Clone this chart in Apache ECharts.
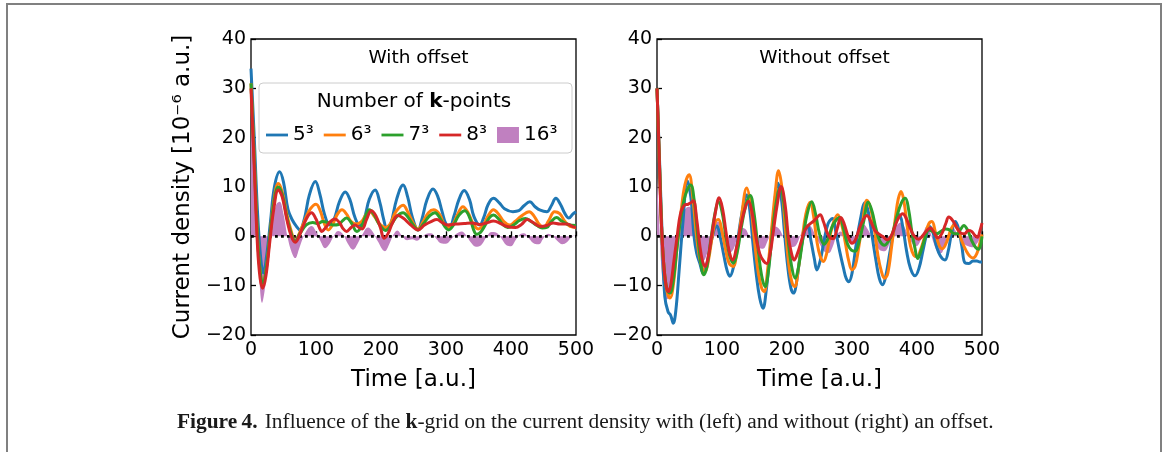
<!DOCTYPE html>
<html>
<head>
<meta charset="utf-8">
<title>Current density vs. k-grid</title>
<script src="https://cdn.jsdelivr.net/npm/echarts@6/dist/echarts.min.js"></script>
<style>
  html, body { margin: 0; padding: 0; background: #fff; }
  #chart { position: absolute; left: 0; top: 0; width: 1165px; height: 452px; }
  #frame { position: absolute; left: 6px; top: 3px; width: 1156px; height: 470px;
           box-sizing: border-box; border: 2px solid #808080; border-bottom: none; pointer-events: none; }
</style>
</head>
<body>
<div id="chart"></div>
<div id="frame"></div>
<script>
// ---- data: [time (a.u.), current density (1e-6 a.u.)] ----
const seriesNames = ['5\u00b3', '6\u00b3', '7\u00b3', '8\u00b3', '16\u00b3'];
const seriesColors = ['#1f77b4', '#ff7f0e', '#2ca02c', '#d62728', '#c080c0'];
const xTicks = { min: 0, max: 500, step: 100 };
const yTicks = { min: -20, max: 40, step: 10 };
const panelTitles = ['With offset', 'Without offset'];

// with offset
const offK5 = [[0,34],[5,20],[10,5],[15,-4.5],[19,-7.4],[24,-4],[30,3],[36,10],[44,13.1],[50,11],[57,5.4],[64,3.2],[70,2],[75,1.3],[82,3.5],[90,8.5],[99,11.1],[106,8.5],[113,4.5],[121,2.3],[128,3.5],[136,7],[145,9.0],[152,7.5],[160,3.8],[167,2.3],[174,3.5],[182,7.5],[191,9.4],[198,7],[204,3.5],[209,1.7],[215,2.5],[224,7.5],[234,10.4],[241,8],[248,4],[257,1.3],[263,3.5],[271,7.5],[280,9.6],[287,8.2],[294,5],[300,2.5],[306,2.0],[312,4],[320,7.5],[328,9.3],[336,7.5],[343,4],[352,2.3],[358,3.8],[365,6.5],[373,7.7],[382,6.8],[390,5.6],[403,5.0],[412,5.2],[420,6.2],[429,7.0],[437,6.0],[445,5.3],[455,5.0],[462,6.2],[469,7.7],[476,6.5],[483,4.6],[489,3.7],[495,4.5],[500,5.0]];
const offK6 = [[0,31],[5,16],[10,0],[14,-7],[18,-9.8],[23,-7],[29,0],[35,7],[42,10.7],[48,9],[55,4.5],[62,1],[68,-1.0],[74,0.5],[82,3],[91,5.5],[100,6.5],[107,5],[113,2.5],[119,1.3],[126,2.5],[133,4.5],[140,5.4],[147,4.5],[154,3],[162,2.5],[170,3],[177,4.4],[183,5.0],[190,4],[198,2.5],[207,1.8],[214,2.5],[223,5],[234,6.3],[241,5],[249,2.8],[257,1.5],[265,3],[273,4.8],[281,5.4],[290,4.5],[297,2.5],[304,1.8],[311,2.5],[318,4.5],[326,6.0],[334,4.8],[342,2.5],[350,1.5],[357,2.2],[365,4.2],[373,5.4],[381,4.5],[389,3],[398,2.3],[406,3],[415,4],[428,5.0],[436,4],[443,2.5],[450,1.8],[458,3.2],[467,5.0],[475,4.6],[483,3],[491,2],[500,1.8]];
const offK7 = [[0,31],[5,15.5],[10,0],[14,-7],[18,-9.5],[23,-7],[29,0],[35,6.5],[42,10],[48,8.5],[55,4],[62,0.5],[68,-1.0],[75,0.5],[85,2.3],[95,2.8],[103,2.6],[110,3.0],[118,2.8],[126,2.3],[135,2.4],[141,3.2],[147,3.7],[154,2.8],[163,1.0],[170,2],[176,4],[182,5.4],[189,4.5],[197,2.5],[207,1.2],[214,2],[224,4],[234,4.8],[242,3.8],[250,2.2],[257,1.3],[265,2.5],[275,4.2],[283,4.8],[291,3.6],[298,2],[304,1.3],[311,2.2],[320,4.3],[329,5.2],[337,3.6],[342,1.5],[347,0.4],[353,0.8],[360,2.2],[367,3.8],[373,4.3],[381,3.5],[388,2.3],[395,1.8],[404,2.3],[413,3.2],[422,3.6],[431,3],[440,2.2],[448,1.7],[455,1.8],[462,3],[470,3.8],[478,3.1],[488,2.4],[500,2.2]];
const offK8 = [[0,30],[5,14],[10,-2],[14,-8.5],[18,-10.5],[23,-8],[29,-1],[35,5.5],[42,9.4],[48,8],[55,3.5],[62,0],[68,-1.2],[74,0],[80,2],[87,4],[93,4.8],[100,3.5],[105,1.8],[109,1.0],[115,1.8],[122,3],[129,3.5],[136,2.8],[142,1.5],[147,1.0],[154,1.8],[160,2.3],[166,1.8],[171,1.5],[178,3.5],[185,5.2],[192,4.2],[199,1.8],[205,-0.4],[211,0.6],[218,2.8],[226,4.2],[234,3.7],[245,2.4],[257,1.3],[267,2.3],[277,3],[286,3.4],[294,2.8],[302,2.3],[315,2.5],[328,2.6],[340,2.7],[352,2.4],[362,2.7],[373,3.1],[384,2.6],[394,2.0],[407,1.8],[416,2.4],[425,3.4],[434,2.8],[445,2.0],[455,2.2],[465,2.7],[475,2.5],[486,2.5],[496,1.9],[500,1.8]];
const offK16 = [[0,33],[5,17],[10,-1],[13,-9],[17,-13.5],[21,-11],[27,-4],[33,3],[39,6.5],[44,7.0],[50,4.5],[56,0],[62,-3],[68,-4.4],[74,-2.5],[80,-0.3],[87,1.5],[93,2.1],[100,1],[107,-1],[114,-2.4],[121,-1.5],[127,0],[134,1.1],[141,0.5],[149,-1.5],[157,-2.7],[164,-1.5],[171,0.3],[180,1.8],[187,1],[195,-1],[206,-3.0],[213,-1.5],[219,0.3],[225,1.2],[232,0.2],[240,-0.8],[248,-0.6],[255,-0.9],[262,-0.3],[270,0.5],[277,0.6],[285,-0.5],[292,-1.4],[300,-1.5],[308,-0.6],[316,0.5],[324,1.0],[331,0.2],[338,-1.2],[346,-2.1],[354,-1.8],[362,-0.2],[370,0.9],[377,0.8],[385,-0.4],[393,-1.8],[400,-2],[407,-0.8],[414,0.4],[420,0.6],[428,-0.5],[436,-1.5],[443,-1.6],[450,-0.4],[457,0.5],[464,0.1],[471,-0.9],[479,-1.6],[486,-1.2],[493,-0.2],[500,0.3]];

// without offset
const noOffK5 = [[0,30],[4,15],[8,0],[12,-12.2],[17,-15.3],[21,-16],[25,-17.6],[29,-15],[34,-7],[40,3],[46.7,11.2],[52,8],[57,0],[61,-3.4],[66,-5.5],[71,-7.5],[76,-6],[82,-2],[88,1.4],[92,2.1],[97,0],[103,-4],[108,-7],[112,-8.1],[118,-6],[124,-1],[131,5],[138,8.4],[143,5],[148,-2],[153,-8],[158,-12.5],[163,-14.6],[168,-11],[174,-3],[180,5],[186,10.8],[191,8],[196,1],[201,-6],[206,-10.5],[210,-11.5],[215,-9],[221,-3],[227,1],[232,2],[237,-1],[242,-4.5],[246,-6.8],[251,-5],[257,-1],[263,2.5],[270,3.6],[275,1],[281,-3],[287,-6.5],[291,-8.5],[295,-9.2],[300,-7.5],[306,-2],[313,3.5],[320,6.8],[325,5],[331,0],[337,-5],[342,-8.5],[347,-9.8],[352,-8],[358,-3.5],[364,1],[369,3.5],[373,4.4],[378,2],[384,-3],[390,-6.5],[397,-8.0],[403,-6.5],[409,-3],[414,0],[419,2],[424,1],[430,-2],[436,-4],[443,-4.8],[448,-3],[453,0.5],[459,3.0],[464,1.5],[469,-2],[474,-5.4],[480,-5.5],[486,-5],[492,-5],[497,-5.2],[500,-5.2]];
const noOffK6 = [[0,30],[4,14],[8,-1],[12,-8],[16,-11.5],[20,-12.5],[25,-10],[31,-2],[37,5],[43,10.5],[49.3,12.5],[55,8],[60,1],[65,-4],[70,-6.5],[74,-7.1],[79,-5],[85,0],[90,3],[94.5,3.4],[100,1],[106,-3],[111,-5.5],[117,-6.1],[123,-3],[130,4],[138,9.8],[144,6.5],[150,-1],[156,-7.5],[161,-10.5],[165,-11.2],[170,-7],[176,1],[182,9],[187,13.3],[192,10],[198,1],[203,-6],[208,-9.5],[212,-10.2],[217,-7],[223,-1],[229,4.5],[235.7,6.9],[241,4],[246,-1],[251,-4],[256,-5.1],[261,-3.5],[266,0],[272,3],[278,4.4],[284,2.5],[290,-1.5],[295,-5],[300,-6.8],[305,-6],[310,-2.5],[316,2.5],[323,7.3],[329,5.5],[335,1],[340,-4],[345,-7],[350,-8.5],[355,-7.5],[361,-2],[367,4],[371,7.5],[375.5,9.1],[380,7],[385,2],[390,-2],[395,-3.8],[400,-4.1],[406,-2.5],[412,0],[418,2.5],[423,3.0],[428,1],[434,-1.8],[439,-2.5],[446,-1],[452,1.3],[457,2.3],[463,1.3],[469,-1],[476,-3],[481,-4],[486,-4.4],[492,-3.5],[497,-1.2],[500,0.4]];
const noOffK7 = [[0,30],[4,14],[8,-1],[12,-8],[16,-11],[20,-11.5],[25,-9],[31,-2],[37,4],[44,8.5],[51.9,10.4],[57,7.5],[62,1],[67,-5],[72,-7.8],[77,-6],[83,-0.5],[89,4.5],[94.5,7.0],[100,5],[106,0],[112,-4],[117.6,-5.4],[123,-3.5],[130,2],[137,6.5],[143.3,8.3],[149,5],[155,-2],[161,-8],[166.4,-10.2],[171,-7.5],[177,0],[183,6.5],[189.5,9.8],[195,7],[201,0],[207,-6],[212.6,-8.5],[218,-6],[225,0],[231,4.5],[238,7.0],[244,4.5],[250,0.5],[257,-1.6],[263,-0.5],[269,1.8],[275,3.2],[281,3.8],[287,1.5],[293,-1.5],[299,-2.8],[305,-3.0],[311,-1],[318,3],[325,6.9],[331,5],[337,1.5],[343,-1],[350,-1.8],[356,-1],[362,0.5],[369,4],[376,6.8],[382,7.7],[387,5.5],[392,1],[397,-2.5],[401,-4.5],[406,-3],[412,-0.5],[418,1.3],[424,1],[430,0.5],[437,1.0],[444,1.5],[450,1.3],[456,0.6],[462,0.5],[467,1.4],[472,2.2],[478,1.2],[484,-0.8],[490,-2.2],[495,-2.6],[500,0]];
const noOffK8 = [[0,30],[3,18],[6,5],[10,-5],[14,-10],[17.5,-11.2],[21,-10],[26,-5],[31,0],[36,4.5],[42,6.3],[48,6.5],[52,6.8],[56,7.2],[61,3.5],[66,-2],[70,-5],[74,-6.1],[79,-4],[84,0],[90,5],[95.6,7.8],[101,5.5],[106,1],[111,-3],[116.6,-4.8],[122,-2.5],[128,1.5],[134,5],[140.7,7.1],[146,5],[152,0],[158,-3.5],[164,-5],[169,-5.5],[174,-3.5],[179,1],[185,6.5],[191,10.1],[197,6.5],[202,0],[207,-3.5],[211,-4.8],[216,-3.5],[222,-1],[228,1.4],[235,2.5],[241,3.1],[246,3.8],[251,4.4],[256,3],[261,1],[266,-0.3],[271,-0.5],[277,1.5],[283,3.8],[288,2.5],[294,0],[300,-1.4],[305,-0.8],[311,1.5],[317,3.3],[323,4.2],[329,3],[335,1.2],[341,0.5],[347,0],[354,-0.7],[360,0],[366,2],[372,3.8],[378,4.6],[384,3.5],[390,1.5],[396,0],[402.6,-0.6],[408,0],[414,1],[420.6,1.7],[426,0.8],[432,-0.3],[438,0.5],[444,2.5],[449,3.9],[455,3.2],[461,1.8],[467,0.7],[473,0.5],[479,1.2],[484,1.0],[489,0.2],[493,-0.2],[497,1.2],[500,2.7]];
const noOffK16 = [[0,12],[3,4],[6,-5],[10,-10.5],[15,-12.8],[20,-12],[25,-8],[30,-3],[35,1.5],[40,4.5],[45,5.8],[50,6],[55,4],[60,0],[65,-3.5],[71,-5],[77,-3.5],[83,0],[89,2.5],[94,3.0],[100,1.5],[106,-1.5],[112,-3.3],[118,-2.5],[124,0],[130,1.7],[136,1.5],[142,0],[149,-1.5],[156,-2.3],[163,-2.5],[170,-1],[176,1],[182,2],[188,1.5],[194,0],[200,-1.5],[207,-2.2],[214,-1.8],[220,0],[226,1.8],[232,2.5],[238,1.8],[244,0],[250,-1.5],[257,-3],[264,-3.4],[270,-2.2],[276,0],[282,1],[288,0.3],[294,-1],[300,-1.5],[306,-0.5],[312,1.5],[318,2.4],[324,1.5],[330,0],[336,-1.5],[343,-2.8],[350,-3],[356,-2],[362,0],[368,2],[375,2.8],[381,1.8],[387,0],[393,-1.5],[399,-2],[405,-1],[410,0.8],[415,2],[420,1],[426,-1.5],[432,-3.2],[437,-3.4],[442,-2],[448,0.5],[454,2],[460,1],[466,-0.5],[472,-1.5],[479,-2],[486,-2.2],[492,-1.5],[497,-0.5],[500,0]];

const zeroLine = [[0,0],[500,0]];

const panels = [
  [offK5, offK6, offK7, offK8, offK16],
  [noOffK5, noOffK6, noOffK7, noOffK8, noOffK16]
];

// ---- layout & style ----
const FONT = 'DejaVu Sans';
const grids = [
  { left: 251, top: 39, width: 325, height: 296 },
  { left: 657, top: 39, width: 325, height: 296 }
];
const minusFmt = v => String(v).replace('-', '\u2212');

const xAxes = grids.map((g, i) => ({
  type: 'value', gridIndex: i, min: xTicks.min, max: xTicks.max, interval: xTicks.step,
  name: 'Time [a.u.]', nameLocation: 'middle', nameGap: 34,
  nameTextStyle: { fontFamily: FONT, fontSize: 23, color: '#000' },
  axisLine: { show: false },
  axisTick: { show: true, inside: true, length: 5, lineStyle: { color: '#000', width: 1.3 } },
  axisLabel: { fontFamily: FONT, fontSize: 19, color: '#000', margin: 6, formatter: minusFmt },
  splitLine: { show: false }
}));
const yAxes = grids.map((g, i) => ({
  type: 'value', gridIndex: i, min: yTicks.min, max: yTicks.max, interval: yTicks.step,
  name: i === 0 ? 'Current density [10\u207b\u2076 a.u.]' : '',
  nameLocation: 'middle', nameGap: 56, nameRotate: 90,
  nameTextStyle: { fontFamily: FONT, fontSize: 23, color: '#000' },
  axisLine: { show: false },
  axisTick: { show: true, inside: true, length: 5, lineStyle: { color: '#000', width: 1.3 } },
  axisLabel: { fontFamily: FONT, fontSize: 19, color: '#000', margin: 5, formatter: minusFmt },
  splitLine: { show: false }
}));

const LW = 3;
const series = [];
panels.forEach((data, p) => {
  // 16^3 reference as a filled area about zero
  series.push({
    name: seriesNames[4], type: 'line', xAxisIndex: p, yAxisIndex: p,
    data: data[4], smooth: 0.4, symbol: 'none', z: 1,
    itemStyle: { color: seriesColors[4] },
    lineStyle: { width: 0 },
    areaStyle: { color: seriesColors[4], opacity: 1, origin: 0 },
    animation: false
  });
  // dotted zero line
  series.push({
    name: 'zero', type: 'line', xAxisIndex: p, yAxisIndex: p,
    data: zeroLine, symbol: 'none', z: 2, silent: true,
    lineStyle: { color: '#000', width: 2.8, type: [2.8, 3.2] },
    animation: false
  });
  for (let k = 0; k < 4; k++) {
    series.push({
      name: seriesNames[k], type: 'line', xAxisIndex: p, yAxisIndex: p,
      data: data[k], smooth: 0.4, symbol: 'none', z: 3 + k,
      itemStyle: { color: seriesColors[k] },
      lineStyle: { color: seriesColors[k], width: LW },
      animation: false
    });
  }
});

const lineIcon = 'path://M0,0L22,0L22,2.8L0,2.8Z';

const option = {
  backgroundColor: '#fff',
  animation: false,
  grid: grids.map(g => Object.assign({ show: true, borderColor: '#000', borderWidth: 1.3, backgroundColor: 'transparent' }, g)),
  xAxis: xAxes,
  yAxis: yAxes,
  title: panelTitles.map((t, i) => ({
    text: t, left: grids[i].left + grids[i].width / 2, top: 44, textAlign: 'center',
    textStyle: { fontFamily: FONT, fontSize: 18.5, fontWeight: 'normal', color: '#000' }
  })),
  legend: {
    data: seriesNames.map((n, i) => ({ name: n, icon: i < 4 ? lineIcon : 'rect' })),
    left: 266, top: 125, orient: 'horizontal', padding: 0,
    itemWidth: 22, itemHeight: 16, itemGap: 10, z: 10,
    selectedMode: false,
    textStyle: { fontFamily: FONT, fontSize: 20, color: '#000' }
  },
  graphic: [
    { type: 'rect', z: 8, shape: { x: 259, y: 83, width: 313, height: 70, r: 4 },
      style: { fill: 'rgba(255,255,255,0.85)', stroke: '#cccccc', lineWidth: 1 } },
    { type: 'text', z: 11, x: 414, y: 102,
      style: { text: '{a|Number of }{b|k}{a|-points}', align: 'center', verticalAlign: 'middle',
        rich: { a: { fontFamily: FONT, fontSize: 20, fill: '#000' },
                b: { fontFamily: FONT, fontSize: 20, fontWeight: 'bold', fill: '#000' } } } },
    { type: 'text', z: 11, x: 177, y: 423, scaleX: 1.07,
      style: { text: '{b|Figure\u20094.}  {a|Influence of the }{b|k}{a|-grid on the current density with (left) and without (right) an offset.}',
        align: 'left', verticalAlign: 'middle',
        rich: { a: { fontFamily: 'Liberation Serif', fontSize: 20, fill: '#1a1a1a' },
                b: { fontFamily: 'Liberation Serif', fontSize: 20, fontWeight: 'bold', fill: '#1a1a1a' } } } }
  ],
  series: series
};

const chart = echarts.init(document.getElementById('chart'), null, { renderer: 'canvas' });
chart.setOption(option);
</script>
</body>
</html>
